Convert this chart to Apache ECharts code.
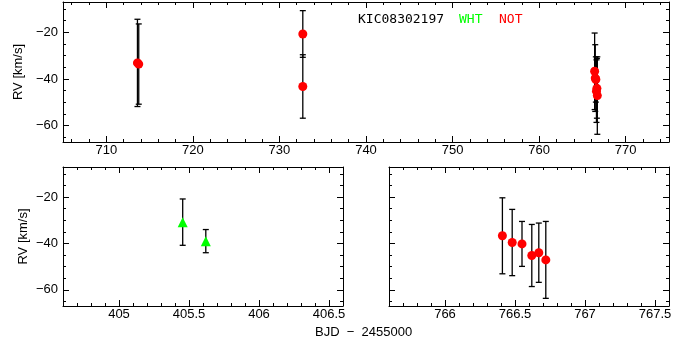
<!DOCTYPE html>
<html><head><meta charset="utf-8">
<script src="https://cdn.jsdelivr.net/npm/echarts@6/dist/echarts.min.js"></script>
<style>html,body{margin:0;padding:0;background:#fff}#c{width:693px;height:347px}</style>
</head><body><div id="c"></div>
<script>
// NOT observations (BJD - 2455000, RV km/s, error km/s)
var NOT_bjd = [713.6, 713.75, 732.7, 732.7, 766.41, 766.48, 766.55, 766.62, 766.67, 766.72];
var NOT_rv  = [-33.1, -33.6, -20.7, -43.2, -36.7, -39.6, -40.2, -45.2, -44.0, -47.1];
var NOT_err = [18.7, 17.2, 10.0, 13.6, 16.4, 14.3, 9.7, 13.4, 12.8, 16.6];
// WHT observations
var WHT_bjd = [405.455, 405.62];
var WHT_rv  = [-30.8, -39.0];
var WHT_err = [10.0, 5.0];
// axes
var yRange = [-67, -7];
var yTicks = [-60, -40, -20];
var topXRange = [705, 775];
var topXTicks = [710, 720, 730, 740, 750, 760, 770];
var blXRange = [404.6, 406.6];
var blXTicks = [405, 405.5, 406, 406.5];
var brXRange = [765.6, 767.6];
var brXTicks = [766, 766.5, 767, 767.5];

var FONT = 'Liberation Sans';
function minors(range, step) {
  var out = [];
  var s = Math.ceil(range[0] / step - 1e-9);
  for (var k = s; k * step <= range[1] + 1e-9; k++) out.push(+(k * step).toFixed(6));
  return out;
}
function fmt(v) { return String(v).replace('-', '\u2212'); }

var grids = [
  {left: 63, top: 2, width: 606, height: 140},
  {left: 63, top: 167, width: 280, height: 139},
  {left: 389, top: 167, width: 280, height: 139}
];
var xAxes = [], yAxes = [];
function addAxes(gi, xr, xt, xminStep, showYLabels, yName) {
  var base = {type: 'value', gridIndex: gi, splitLine: {show: false}};
  ['bottom', 'top'].forEach(function (pos) {
    xAxes.push(Object.assign({}, base, {
      position: pos, min: xr[0], max: xr[1],
      axisLine: {show: true, onZero: false, lineStyle: {color: '#000', width: 1}},
      axisTick: {show: true, inside: true, length: 6, customValues: xt, lineStyle: {color: '#000'}},
      axisLabel: pos === 'bottom' ? {show: true, customValues: xt, formatter: fmt, margin: 2,
        color: '#000', fontFamily: FONT, fontSize: 13} : {show: false}
    }));
    xAxes.push(Object.assign({}, base, {
      position: pos, min: xr[0], max: xr[1],
      axisLine: {show: false, onZero: false},
      axisTick: {show: true, inside: true, length: 3, customValues: minors(xr, xminStep), lineStyle: {color: '#000'}},
      axisLabel: {show: false}
    }));
  });
  ['left', 'right'].forEach(function (pos) {
    var lab = (pos === 'left' && showYLabels);
    yAxes.push(Object.assign({}, base, {
      position: pos, min: yRange[0], max: yRange[1],
      name: (pos === 'left' && yName) ? yName : '', nameLocation: 'middle', nameGap: 33,
      nameTextStyle: {color: '#000', fontFamily: FONT, fontSize: 13},
      axisLine: {show: true, onZero: false, lineStyle: {color: '#000', width: 1}},
      axisTick: {show: true, inside: true, length: 6, customValues: yTicks, lineStyle: {color: '#000'}},
      axisLabel: lab ? {show: true, customValues: yTicks, formatter: fmt, margin: 5,
        color: '#000', fontFamily: FONT, fontSize: 13} : {show: false}
    }));
    yAxes.push(Object.assign({}, base, {
      position: pos, min: yRange[0], max: yRange[1],
      axisLine: {show: false, onZero: false},
      axisTick: {show: true, inside: true, length: 3, customValues: minors(yRange, 5), lineStyle: {color: '#000'}},
      axisLabel: {show: false}
    }));
  });
}
addAxes(0, topXRange, topXTicks, 2, true, 'RV [km/s]');
addAxes(1, blXRange, blXTicks, 0.1, true, 'RV [km/s]');
addAxes(2, brXRange, brXTicks, 0.1, false, '');

function pts(bjd, rv, err, xr) {
  var p = [], e = [];
  for (var i = 0; i < bjd.length; i++) {
    if (bjd[i] < xr[0] || bjd[i] > xr[1]) continue;
    p.push([bjd[i], rv[i]]);
    e.push([bjd[i], rv[i] - err[i], rv[i] + err[i]]);
  }
  return {p: p, e: e};
}
function errSeries(gi, data) {
  return {
    type: 'custom', xAxisIndex: gi * 4, yAxisIndex: gi * 4, data: data, z: 2, silent: true,
    renderItem: function (params, api) {
      var lo = api.coord([api.value(0), api.value(1)]);
      var hi = api.coord([api.value(0), api.value(2)]);
      var w = 3;
      var st = {stroke: '#000', lineWidth: 1.3};
      return {type: 'group', children: [
        {type: 'line', shape: {x1: lo[0], y1: lo[1], x2: hi[0], y2: hi[1]}, style: st},
        {type: 'line', shape: {x1: lo[0] - w, y1: lo[1], x2: lo[0] + w, y2: lo[1]}, style: st},
        {type: 'line', shape: {x1: hi[0] - w, y1: hi[1], x2: hi[0] + w, y2: hi[1]}, style: st}
      ]};
    }
  };
}
var ranges = [topXRange, blXRange, brXRange];
var series = [];
ranges.forEach(function (xr, gi) {
  var n = pts(NOT_bjd, NOT_rv, NOT_err, xr);
  var w = pts(WHT_bjd, WHT_rv, WHT_err, xr);
  if (n.p.length) {
    series.push(errSeries(gi, n.e));
    series.push({type: 'scatter', xAxisIndex: gi * 4, yAxisIndex: gi * 4, data: n.p, symbol: 'circle',
      symbolSize: 9, itemStyle: {color: '#ff0000', opacity: 1}, z: 3, silent: true});
  }
  if (w.p.length) {
    series.push(errSeries(gi, w.e));
    series.push({type: 'scatter', xAxisIndex: gi * 4, yAxisIndex: gi * 4, data: w.p, symbol: 'triangle',
      symbolSize: 10, itemStyle: {color: '#00ff00', opacity: 1}, z: 3, silent: true});
  }
});

var chart = echarts.init(document.getElementById('c'), null, {renderer: 'canvas'});
chart.setOption({
  animation: false,
  backgroundColor: '#fff',
  grid: grids,
  xAxis: xAxes,
  yAxis: yAxes,
  series: series,
  graphic: [
    {type: 'text', left: 358, top: 13, style: {text: 'KIC08302197', fill: '#000', font: '13px "DejaVu Sans Mono"'}},
    {type: 'text', left: 459, top: 13, style: {text: 'WHT', fill: '#00ff00', font: '13px "DejaVu Sans Mono"'}},
    {type: 'text', left: 499, top: 13, style: {text: 'NOT', fill: '#ff0000', font: '13px "DejaVu Sans Mono"'}},
    {type: 'text', left: 315, top: 326, style: {text: 'BJD  \u2212  2455000', fill: '#000', font: '13px "Liberation Sans"'}}
  ]
});
</script></body></html>
